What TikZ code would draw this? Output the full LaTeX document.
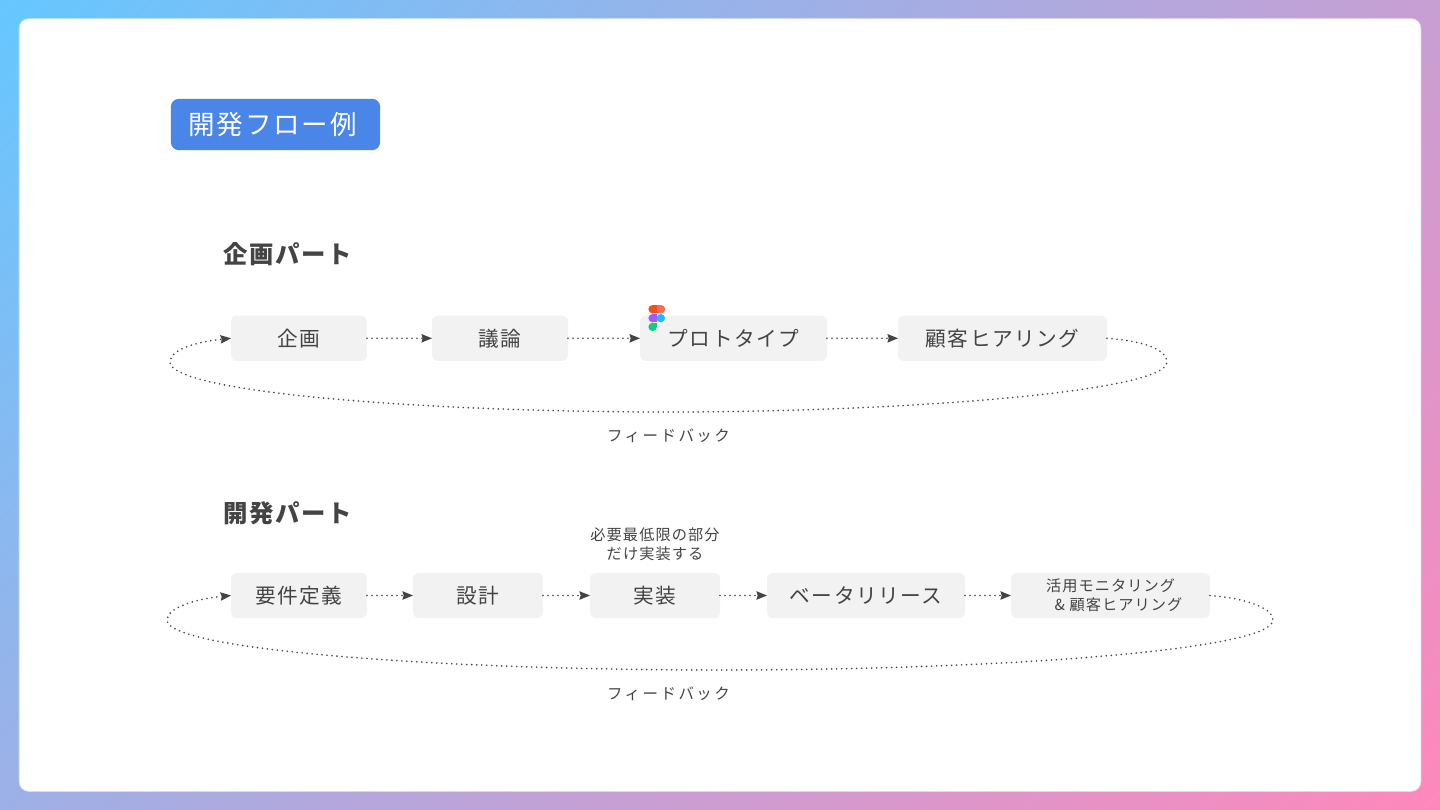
\documentclass[tikz,border=0pt]{standalone}
\usepackage{fontspec}
\setmainfont{Noto Sans CJK JP}
\newfontfamily\jpfont[LetterSpace=7]{Noto Sans CJK JP}
\newfontfamily\jpwide[LetterSpace=16]{Noto Sans CJK JP}
\usetikzlibrary{arrows.meta}
\definecolor{bgblue}{HTML}{66C7FF}
\definecolor{bgpink}{HTML}{FF88BB}
\definecolor{badgeblue}{HTML}{4A86E8}
\definecolor{boxgray}{HTML}{F2F2F2}
\definecolor{inkgray}{HTML}{444444}
\definecolor{figmared}{HTML}{F24E1E}
\definecolor{figmaorange}{HTML}{FF6A55}
\definecolor{figmapurple}{HTML}{A259FF}
\definecolor{figmablue}{HTML}{1ABCFE}
\definecolor{figmagreen}{HTML}{0ACF83}
\tikzset{
  flowbox/.style={fill=boxgray,rounded corners=4.5pt,minimum height=34pt,inner sep=0pt,outer sep=0pt,
    text=inkgray,font=\jpfont\fontsize{15.5pt}{19pt}\selectfont},
  flowarrow/.style={draw=inkgray,line width=1.35pt,line cap=round,dash pattern=on 0pt off 3.75pt,
    -{Stealth[length=8pt,width=6.5pt,inset=1pt,line cap=butt,line width=0pt]}},
  heading/.style={anchor=west,inner sep=0pt,text=inkgray,font=\jpfont\bfseries\fontsize{18.3pt}{23pt}\selectfont},
  notetext/.style={inner sep=0pt,text=inkgray,align=center,font=\jpfont\fontsize{11.4pt}{14.3pt}\selectfont},
  backtext/.style={inner sep=0pt,text=inkgray,font=\jpwide\fontsize{11.6pt}{14.3pt}\selectfont},
}
\begin{document}
\begin{tikzpicture}[x=0.75pt,y=-0.75pt]
\useasboundingbox (0,0) rectangle (1440,810);
\begin{scope}
\clip (0,0) rectangle (1440,810);
\shade[left color=bgblue,right color=bgpink,transform canvas={rotate around={-45:(720,405)}}]
  (-75.5,-900) rectangle (1515.5,1710);
\end{scope}
\draw[white,fill=white,draw opacity=0.5,line width=1.2pt,rounded corners=7pt] (19.5,19) rectangle (1420.5,791);

\node[fill=badgeblue,rounded corners=6pt,minimum width=157pt,minimum height=38.5pt,inner sep=0pt,
  text=white,font=\jpfont\fontsize{19.9pt}{24pt}\selectfont] (title) at (275.5,124.5) {開発フロー例\kern4.5pt};

\node[heading] (planhead) at (223,254) {企画パート};
\node[heading] (devhead) at (223,513) {開発パート};

\node[flowbox,minimum width=102pt] (plan) at (299,338.3) {企画};
\node[flowbox,minimum width=102pt] (discuss) at (500,338.3) {議論};
\node[flowbox,minimum width=140.25pt] (proto) at (733.5,338.3) {プロトタイプ};
\node[flowbox,minimum width=156.75pt] (hearing) at (1002.5,338.3) {顧客ヒアリング};

\draw[flowarrow] (plan) -- (discuss);
\draw[flowarrow] (discuss) -- (proto);
\draw[flowarrow] (proto) -- (hearing);
\draw[flowarrow] (hearing.east) .. controls (1145,341) and (1167,350) .. (1167,362)
  .. controls (1167,392) and (900,412) .. (668,412)
  .. controls (420,412) and (170,392) .. (170,362)
  .. controls (170,350) and (195,342) .. (plan.west);
\node[backtext] (planback) at (668.5,436) {フィードバック};

\fill[figmared] (652.6,309.2) circle (4.2);
\fill[figmared] (652.6,305) rectangle (656.8,313.4);
\fill[figmaorange] (661,309.2) circle (4.2);
\fill[figmaorange] (656.8,305) rectangle (661,313.4);
\fill[figmapurple] (652.6,318.1) circle (4.2);
\fill[figmapurple] (652.6,313.9) rectangle (656.8,322.3);
\fill[figmablue] (660.8,318.1) circle (4.2);
\fill[figmagreen] (652.6,326.9) circle (4.2);
\fill[figmagreen] (652.6,322.7) rectangle (656.8,326.9);

\node[flowbox,minimum width=102pt] (require) at (299,595.5) {要件定義};
\node[flowbox,minimum width=97.5pt] (design) at (478,595.5) {設計};
\node[flowbox,minimum width=97.5pt] (build) at (655,595.5) {実装};
\node[flowbox,minimum width=148.5pt] (beta) at (866,595.5) {ベータリリース};
\node[flowbox,minimum width=149.25pt,font=\jpfont\fontsize{11.4pt}{14.3pt}\selectfont,align=left] (monitor) at (1110.5,595.5)
  {\hspace*{5.5pt}活用モニタリング\\\hspace*{12pt}\& 顧客ヒアリング};
\node[notetext] (buildnote) at (655,544.5) {必要最低限の部分\\だけ実装する};

\draw[flowarrow] (require) -- (design);
\draw[flowarrow] (design) -- (build);
\draw[flowarrow] (build) -- (beta);
\draw[flowarrow] (beta) -- (monitor);
\draw[flowarrow] (monitor.east) .. controls (1245,598) and (1273,608) .. (1273,620)
  .. controls (1273,650) and (1000,670) .. (720,670)
  .. controls (440,670) and (167,650) .. (167,620)
  .. controls (167,608) and (195,599) .. (require.west);
\node[backtext] (devback) at (668.5,694) {フィードバック};
\end{tikzpicture}
\end{document}
